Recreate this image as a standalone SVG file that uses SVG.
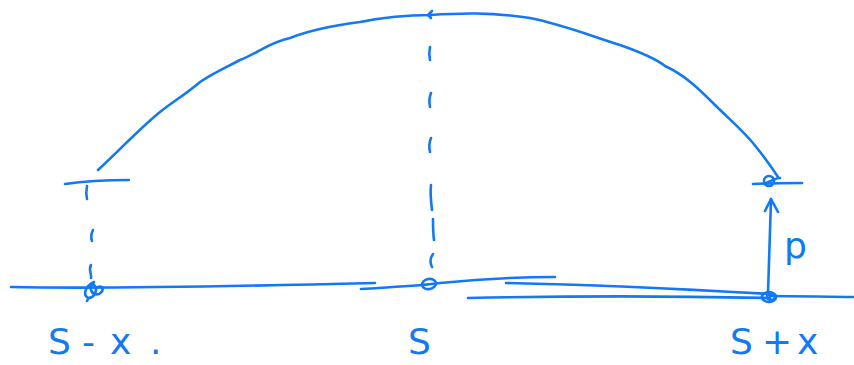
<svg xmlns="http://www.w3.org/2000/svg" width="854" height="365" viewBox="0 0 854 365">
<style>
.s{fill:none;stroke:#1279f5;stroke-width:2.6;stroke-linecap:round;stroke-linejoin:round}
.t{fill:#1279f5;font-family:"DejaVu Sans","Liberation Sans",sans-serif;font-size:36px}
</style>
<rect width="854" height="365" fill="#fff"/>
<g id="curve">
<path class="s" d="M98,170 C120,150 140,128 160,112 C175,100 185,95 200,82 C215,72 225,68 240,60 C260,52 270,42 290,38 C310,30 330,26 360,22 C390,16 410,15 430,15 C460,13 490,12 530,18 C560,24 580,32 620,45 C640,52 655,58 665,66 C685,75 700,90 715,105 C730,120 745,132 757,148 C765,158 772,168 778,177"/>
<path class="s" d="M432,11 L428,15 L431,18"/>
</g>
<g id="baseline">
<path class="s" d="M11,287 C100,289 250,286 375,283"/>
<path class="s" d="M361,289 C390,287 420,286 440,283 C480,279 520,277 555,277"/>
<path class="s" d="M506,283 C600,285 700,290 770,294"/>
<path class="s" d="M468,298 C560,296 680,296 770,298"/>
<path class="s" d="M770,296 C800,296 830,297 853,297"/>
</g>
<g id="node-left">
<path class="s" d="M65,184 C85,181 105,180 129,180"/>
<path class="s" d="M87,186 C86,191 86,195 87,199"/>
<path class="s" d="M93,230 C91,234 91,238 92,241"/>
<path class="s" d="M91,265 C88,270 92,274 91,278"/>
<path class="s" d="M94,282 C86,286 82,294 88,298 C95,298 99,288 93,284 C88,288 92,296 99,294 C105,290 103,285 98,287"/>
<path class="s" d="M88,299 L87,301"/>
</g>
<g id="node-middle">
<path class="s" d="M430,47 C429,52 429,56 430,60"/>
<path class="s" d="M431,93 C429,98 429,102 430,107"/>
<path class="s" d="M431,138 C429,143 429,148 430,152"/>
<path class="s" d="M431,185 C430,193 431,202 432,210"/>
<path class="s" d="M433,219 C433,226 433,233 434,240"/>
<path class="s" d="M433,254 C430,258 430,263 432,267"/>
<ellipse class="s" cx="429" cy="284" rx="7" ry="5" transform="rotate(-10 429 284)"/>
</g>
<g id="node-right">
<path class="s" d="M753,184 C770,183 785,183 802,183"/>
<ellipse class="s" cx="769" cy="181" rx="5" ry="5"/>
<path class="s" d="M764,184 C770,181 776,178 780,178"/>
<ellipse class="s" cx="769" cy="297" rx="7" ry="5"/>
<ellipse class="s" cx="771" cy="297" rx="4" ry="3"/>
</g>
<g id="connectors">
<path class="s" d="M768,293 C769,265 770,230 771,199"/>
<path class="s" d="M765,211 L771,199 L778,212"/>
</g>
<g id="labels">
<text class="t" y="354"><tspan x="48">S</tspan><tspan x="82">-</tspan><tspan x="110">x</tspan><tspan x="150">.</tspan></text>
<text class="t" y="354" x="408" font-size="38">S</text>
<text class="t" y="354"><tspan x="730">S</tspan><tspan x="762">+</tspan><tspan x="797">x</tspan></text>
<text class="t" x="784" y="258" font-size="40">p</text>
</g>
</svg>
